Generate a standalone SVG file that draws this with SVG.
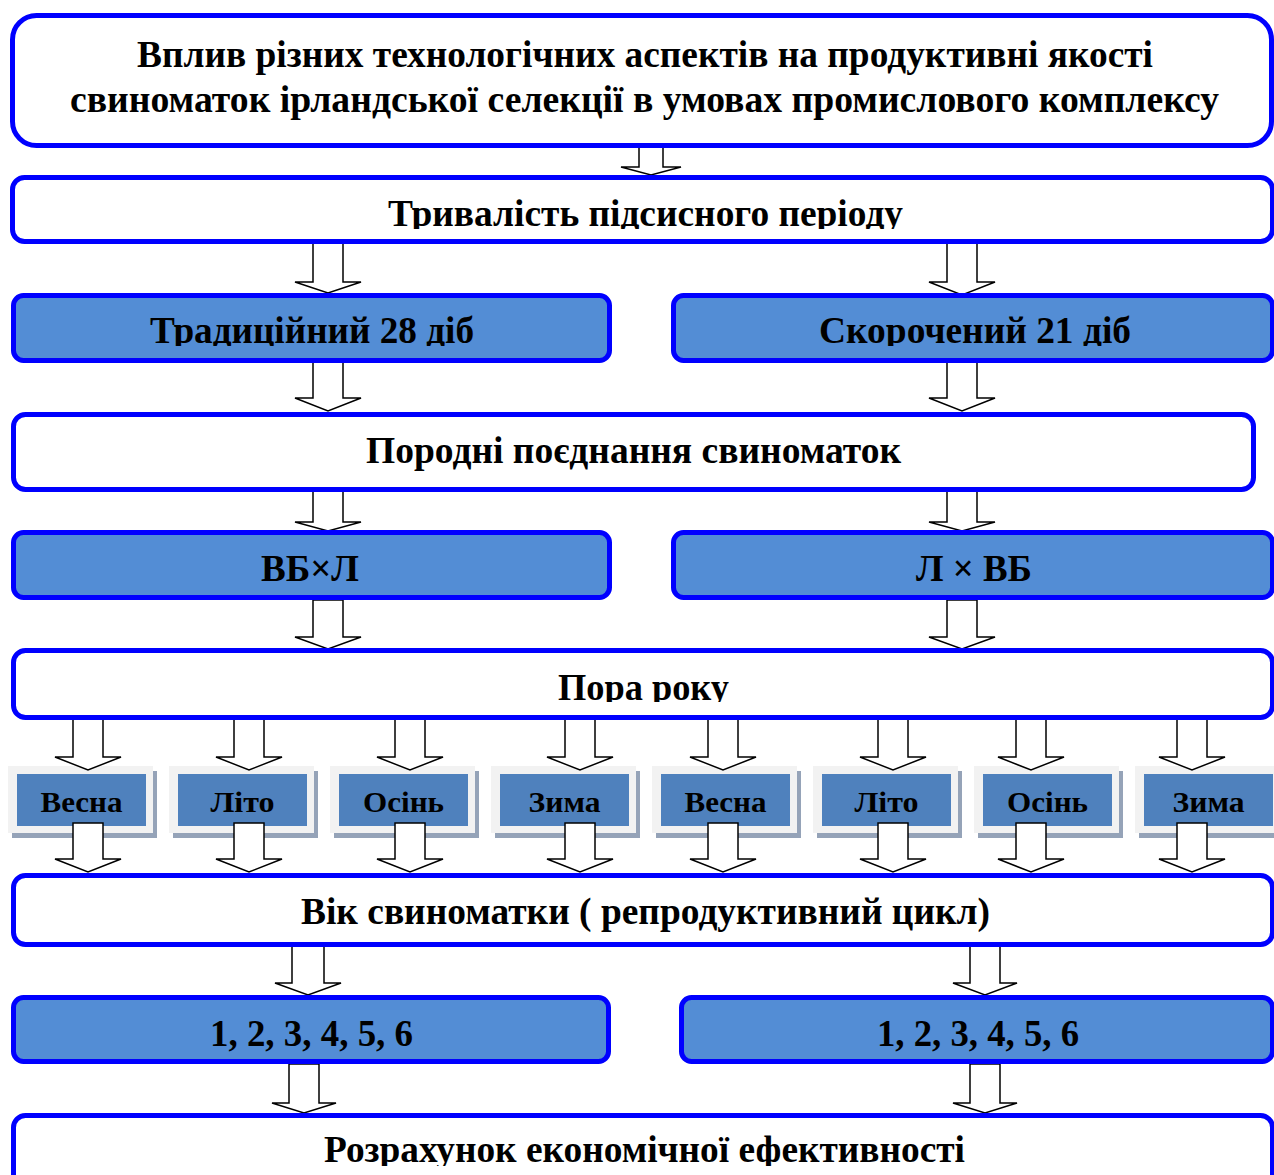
<svg xmlns="http://www.w3.org/2000/svg" width="1274" height="1175" viewBox="0 0 1274 1175">
<style>
.box{fill:#ffffff;stroke:#0000ff;stroke-width:5}
.bbox{fill:#538dd5;stroke:#0000ff;stroke-width:5}
.arr{fill:#ffffff;stroke:#000000;stroke-width:1.5;stroke-linejoin:miter}
.t{font-family:"Liberation Serif","Times New Roman",serif;font-weight:bold;fill:#000000;text-anchor:middle}
.big{font-size:37px}
.sm{font-size:30px}
.sframe{fill:#f2f2f2}
.sshadow{fill:#95a3b8}
.sinner{fill:#4f81bd}
</style>
<defs>
<clipPath id="c2"><rect x="0" y="170" width="1274" height="59"/></clipPath>
<clipPath id="c3"><rect x="0" y="290" width="1274" height="56"/></clipPath>
<clipPath id="c6"><rect x="0" y="645" width="1274" height="57"/></clipPath>
<clipPath id="c9"><rect x="0" y="1110" width="1274" height="56"/></clipPath>
</defs>

<g id="seasons">
<g id="s1"><rect class="sshadow" x="12" y="771" width="145" height="67"/><rect class="sframe" x="8" y="766" width="145" height="67"/><rect class="sinner" x="17" y="774" width="129" height="52"/><text class="t sm" x="81.5" y="812" textLength="82" lengthAdjust="spacingAndGlyphs">Весна</text></g>
<g id="s2"><rect class="sshadow" x="173" y="771" width="145" height="67"/><rect class="sframe" x="169" y="766" width="145" height="67"/><rect class="sinner" x="178" y="774" width="129" height="52"/><text class="t sm" x="242.5" y="812" textLength="64" lengthAdjust="spacingAndGlyphs">Літо</text></g>
<g id="s3"><rect class="sshadow" x="334" y="771" width="145" height="67"/><rect class="sframe" x="330" y="766" width="145" height="67"/><rect class="sinner" x="339" y="774" width="129" height="52"/><text class="t sm" x="403.5" y="812" textLength="81" lengthAdjust="spacingAndGlyphs">Осінь</text></g>
<g id="s4"><rect class="sshadow" x="495" y="771" width="145" height="67"/><rect class="sframe" x="491" y="766" width="145" height="67"/><rect class="sinner" x="500" y="774" width="129" height="52"/><text class="t sm" x="564.5" y="812" textLength="72" lengthAdjust="spacingAndGlyphs">Зима</text></g>
<g id="s5"><rect class="sshadow" x="656" y="771" width="145" height="67"/><rect class="sframe" x="652" y="766" width="145" height="67"/><rect class="sinner" x="661" y="774" width="129" height="52"/><text class="t sm" x="725.5" y="812" textLength="82" lengthAdjust="spacingAndGlyphs">Весна</text></g>
<g id="s6"><rect class="sshadow" x="817" y="771" width="145" height="67"/><rect class="sframe" x="813" y="766" width="145" height="67"/><rect class="sinner" x="822" y="774" width="129" height="52"/><text class="t sm" x="886.5" y="812" textLength="64" lengthAdjust="spacingAndGlyphs">Літо</text></g>
<g id="s7"><rect class="sshadow" x="978" y="771" width="145" height="67"/><rect class="sframe" x="974" y="766" width="145" height="67"/><rect class="sinner" x="983" y="774" width="129" height="52"/><text class="t sm" x="1047.5" y="812" textLength="81" lengthAdjust="spacingAndGlyphs">Осінь</text></g>
<g id="s8"><rect class="sshadow" x="1139" y="771" width="145" height="67"/><rect class="sframe" x="1135" y="766" width="145" height="67"/><rect class="sinner" x="1144" y="774" width="129" height="52"/><text class="t sm" x="1208.5" y="812" textLength="72" lengthAdjust="spacingAndGlyphs">Зима</text></g>
</g>

<g id="connectors">
<path class="arr" d="M639,147 H663 V167 H681 L651,175 L621,167 H639 Z"/>
<path class="arr" d="M313,243 H343 V282 H361 L328,293 L295,282 H313 Z"/>
<path class="arr" d="M947,243 H977 V282 H995 L962,295 L929,282 H947 Z"/>
<path class="arr" d="M313,362 H343 V398 H361 L328,411 L295,398 H313 Z"/>
<path class="arr" d="M947,362 H977 V398 H995 L962,411 L929,398 H947 Z"/>
<path class="arr" d="M313,491 H343 V522 H361 L328,531 L295,522 H313 Z"/>
<path class="arr" d="M947,491 H977 V522 H995 L962,531 L929,522 H947 Z"/>
<path class="arr" d="M313,600 H343 V637 H361 L328,649 L295,637 H313 Z"/>
<path class="arr" d="M947,600 H977 V637 H995 L962,649 L929,637 H947 Z"/>
<path class="arr" d="M73,718 H103 V757 H121 L88,770 L55,757 H73 Z"/>
<path class="arr" d="M234,718 H264 V757 H282 L249,770 L216,757 H234 Z"/>
<path class="arr" d="M395,718 H425 V757 H443 L410,770 L377,757 H395 Z"/>
<path class="arr" d="M565,718 H595 V757 H613 L580,770 L547,757 H565 Z"/>
<path class="arr" d="M708,718 H738 V757 H756 L723,770 L690,757 H708 Z"/>
<path class="arr" d="M878,718 H908 V757 H926 L893,770 L860,757 H878 Z"/>
<path class="arr" d="M1016,718 H1046 V757 H1064 L1031,770 L998,757 H1016 Z"/>
<path class="arr" d="M1177,718 H1207 V757 H1225 L1192,770 L1159,757 H1177 Z"/>
<path class="arr" d="M73,823 H103 V859 H121 L88,872 L55,859 H73 Z"/>
<path class="arr" d="M234,823 H264 V859 H282 L249,872 L216,859 H234 Z"/>
<path class="arr" d="M395,823 H425 V859 H443 L410,872 L377,859 H395 Z"/>
<path class="arr" d="M565,823 H595 V859 H613 L580,872 L547,859 H565 Z"/>
<path class="arr" d="M708,823 H738 V859 H756 L723,872 L690,859 H708 Z"/>
<path class="arr" d="M878,823 H908 V859 H926 L893,872 L860,859 H878 Z"/>
<path class="arr" d="M1016,823 H1046 V859 H1064 L1031,872 L998,859 H1016 Z"/>
<path class="arr" d="M1177,823 H1207 V859 H1225 L1192,872 L1159,859 H1177 Z"/>
<path class="arr" d="M292,946 H324 V983 H341 L308,995 L275,983 H292 Z"/>
<path class="arr" d="M970,946 H1000 V983 H1017 L985,995 L953,983 H970 Z"/>
<path class="arr" d="M289,1064 H319 V1103 H336 L304,1113 L272,1103 H289 Z"/>
<path class="arr" d="M970,1064 H1000 V1103 H1017 L985,1113 L953,1103 H970 Z"/>
</g>

<g id="n1"><rect class="box" x="12.5" y="15.5" width="1259" height="130" rx="24"/>
<text class="t big" x="645" y="67" textLength="1016" lengthAdjust="spacingAndGlyphs">Вплив різних технологічних аспектів на продуктивні якості</text>
<text class="t big" x="644.5" y="112" textLength="1149" lengthAdjust="spacingAndGlyphs">свиноматок ірландської селекції в умовах промислового комплексу</text></g>

<g id="n2"><rect class="box" x="12.5" y="177.5" width="1260" height="64" rx="12"/>
<text class="t big" x="645.5" y="226" textLength="515" lengthAdjust="spacingAndGlyphs" clip-path="url(#c2)">Тривалість підсисного періоду</text></g>

<g id="n3"><rect class="bbox" x="13.5" y="295.5" width="596" height="65" rx="10"/>
<text class="t big" x="312" y="343" textLength="324" lengthAdjust="spacingAndGlyphs" clip-path="url(#c3)">Традиційний 28 діб</text></g>

<g id="n4"><rect class="bbox" x="673.5" y="295.5" width="599" height="65" rx="10"/>
<text class="t big" x="975" y="343" textLength="312" lengthAdjust="spacingAndGlyphs" clip-path="url(#c3)">Скорочений 21 діб</text></g>

<g id="n5"><rect class="box" x="13.5" y="414.5" width="1240" height="75" rx="12"/>
<text class="t big" x="633.5" y="463" textLength="535" lengthAdjust="spacingAndGlyphs">Породні поєднання свиноматок</text></g>

<g id="n6"><rect class="bbox" x="13.5" y="532.5" width="596" height="65" rx="10"/>
<text class="t big" x="310" y="581" textLength="98" lengthAdjust="spacingAndGlyphs">ВБ×Л</text></g>

<g id="n7"><rect class="bbox" x="673.5" y="532.5" width="599" height="65" rx="10"/>
<text class="t big" x="974" y="581" textLength="116" lengthAdjust="spacingAndGlyphs">Л × ВБ</text></g>

<g id="n8"><rect class="box" x="13.5" y="650.5" width="1259" height="67" rx="12"/>
<text class="t big" x="643.5" y="700" textLength="171" lengthAdjust="spacingAndGlyphs" clip-path="url(#c6)">Пора року</text></g>

<g id="n9"><rect class="box" x="13.5" y="875.5" width="1259" height="69" rx="12"/>
<text class="t big" x="645.5" y="924" textLength="689" lengthAdjust="spacingAndGlyphs">Вік свиноматки ( репродуктивний цикл)</text></g>

<g id="n10"><rect class="bbox" x="13.5" y="997.5" width="595" height="64" rx="10"/>
<text class="t big" x="311.5" y="1046" textLength="203" lengthAdjust="spacingAndGlyphs">1, 2, 3, 4, 5, 6</text></g>

<g id="n11"><rect class="bbox" x="681.5" y="997.5" width="591" height="64" rx="10"/>
<text class="t big" x="978" y="1046" textLength="202" lengthAdjust="spacingAndGlyphs">1, 2, 3, 4, 5, 6</text></g>

<g id="n12"><rect class="box" x="13.5" y="1115.5" width="1259" height="90" rx="12"/>
<text class="t big" x="644.5" y="1162" textLength="641" lengthAdjust="spacingAndGlyphs" clip-path="url(#c9)">Розрахунок економічної ефективності</text></g>
</svg>
